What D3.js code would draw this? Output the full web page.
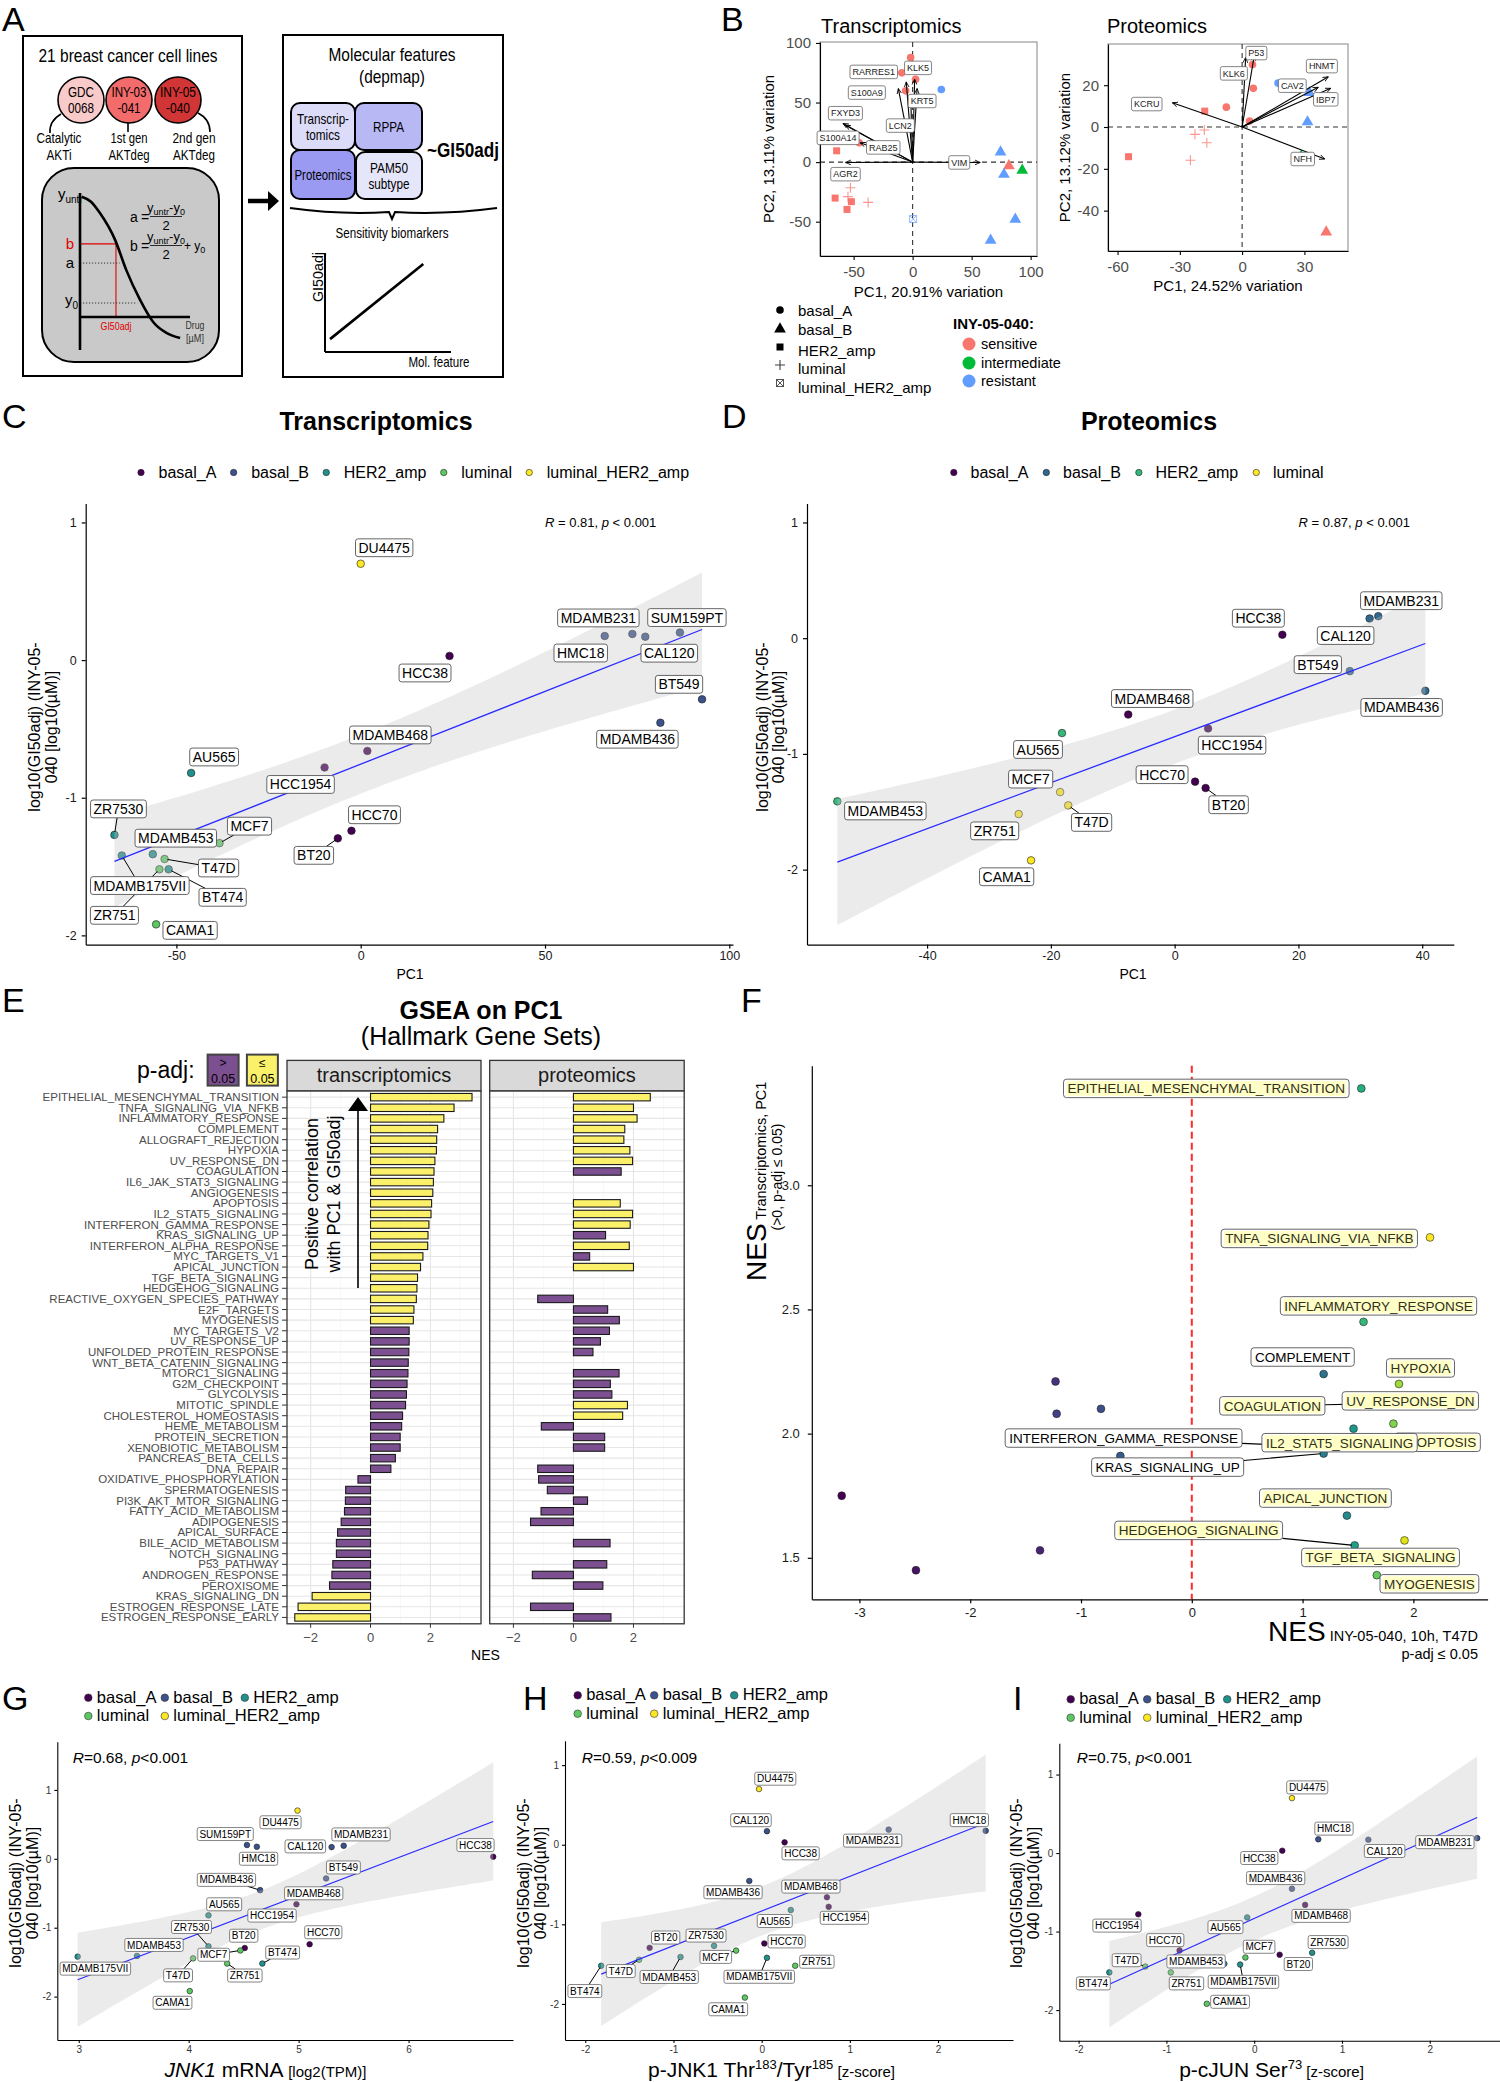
<!DOCTYPE html>
<html>
<head>
<meta charset="utf-8">
<script src="https://cdn.jsdelivr.net/npm/d3@7"></script>
<style>
  html, body { margin: 0; padding: 0; background: #fff; }
  svg { display: block; }
</style>
</head>
<body>
<script>
// ============================ DATA ============================
// --- Panel A (schematic) ---
const drugNames = [["GDC", "0068"], ["INY-03", "-041"], ["INY-05", "-040"]];
const drugClasses = [["Catalytic", "AKTi"], ["1st gen", "AKTdeg"], ["2nd  gen", "AKTdeg"]];
const featureBlocks = [["Transcrip-", "tomics"], ["RPPA"], ["Proteomics"], ["PAM50", "subtype"]];
const doseResponseSketch = [[0.015, 0.97], [0.1, 0.93], [0.18, 0.84], [0.32, 0.62], [0.42, 0.38], [0.545, 0.14], [0.665, -0.04], [0.79, -0.13], [0.91, -0.17]];
const sketchLevels = { b: 0.59, a: 0.435, y0: 0.113, gi50: 0.327, aX: 0.36, y0X: 0.52 };
const biomarkerSketch = [[0.04, 0.13], [0.78, 0.89]];

// --- Panel B (PCA) ---
const pcaTxSubtype = ["basal_A","basal_A","basal_A","basal_A","basal_A","basal_A","HER2_amp","basal_B","basal_B","basal_B","basal_B","HER2_amp","HER2_amp","HER2_amp","luminal","luminal","luminal","luminal_HER2_amp","basal_B","basal_B"];
const pcaTxResponse = ["sensitive","sensitive","sensitive","sensitive","resistant","sensitive","sensitive","resistant","sensitive","intermediate","resistant","sensitive","sensitive","sensitive","sensitive","sensitive","sensitive","resistant","resistant","resistant"];
const pcaTxPC1 = [-1.7, -9.2, 2.5, -5.9, 24.3, -45.2, -64.4, 74.5, 81.6, 92.9, 77.4, -65.7, -51.9, -55.6, -52.7, -54.8, -37.7, 0.4, 87, 66.1];
const pcaTxPC2 = [87.7, 74.9, 69.6, 59.8, 60.9, 16.2, 9.5, 9.2, -2.2, -6.1, -9.5, -30.2, -33.2, -39.7, -21.5, -29, -33.8, -47.8, -47.2, -64.8];
const loadTxGenes = ["KLK5","RARRES1","S100A9","KRT5","LCN2","FXYD3","S100A14","RAB25","AGR2","VIM"];
const loadTxPC1 = [1.7, -5.4, -12.1, 3.8, -1.7, -59, -56.9, -44.4, -56.9, 57.3];
const loadTxPC2 = [69.6, 67.3, 61.7, 61.7, 57, 32.4, 31, 16.2, -0.3, -0.3];

const pcaProtSubtype = ["basal_A","basal_A","basal_A","basal_A","HER2_amp","basal_A","basal_B","basal_B","basal_B","basal_B","HER2_amp","luminal","luminal","luminal","luminal"];
const pcaProtResponse = ["sensitive","sensitive","sensitive","sensitive","sensitive","resistant","resistant","resistant","intermediate","sensitive","sensitive","sensitive","sensitive","sensitive","sensitive"];
const pcaProtPC1 = [5, 5.4, -7.6, 3.6, -18, 17.3, 32.4, 31.5, 28.4, 40.5, -54.7, -22.7, -18.2, -17, -24.9];
const pcaProtPC2 = [29.9, 18.5, 9.5, 2.9, 7.6, 21, 16.9, 2.9, -13.7, -49.8, -14.2, -3.5, -1.4, -7.5, -15.9];
const loadProtGenes = ["P53","KLK6","HNMT","CAV2","IBP7","KCRU","NFH"];
const loadProtPC1 = [5.9, 1.7, 41.5, 36.7, 42.7, -33.6, 39.8];
const loadProtPC2 = [34.4, 33.3, 24, 19, 18.5, 11.6, -15.3];
const shapeLevels = ["basal_A","basal_B","HER2_amp","luminal","luminal_HER2_amp"];
const responseLevels = ["sensitive","intermediate","resistant"];

// --- Cell lines (panels C, D, G, H, I) ---
const cellLines = ["DU4475","HCC38","MDAMB231","HMC18","CAL120","SUM159PT","BT549","MDAMB436","MDAMB468","HCC1954","AU565","HCC70","BT20","ZR7530","MCF7","MDAMB453","T47D","MDAMB175VII","BT474","ZR751","CAMA1"];
const subtypes = ["luminal_HER2_amp","basal_A","basal_B","basal_B","basal_B","basal_B","basal_B","basal_B","basal_A","basal_A","HER2_amp","basal_A","basal_A","HER2_amp","luminal","HER2_amp","luminal","HER2_amp","HER2_amp","luminal","luminal"];
const log10GI50 = [0.70, 0.03, 0.19, 0.175, 0.17, 0.20, -0.285, -0.455, -0.66, -0.78, -0.82, -1.24, -1.295, -1.27, -1.33, -1.41, -1.445, -1.42, -1.52, -1.52, -1.92];
const pc1Transcriptomics = [0, 24.1, 73.7, 66.2, 77.2, 86.6, 92.6, 81.3, 1.8, -9.8, -46, -2.5, -6.2, -66.8, -38.3, -56.4, -53.2, -64.8, -52.1, -54.6, -55.5];
const pc1Proteomics = [null, 17.4, 32.9, null, 31.5, null, 28.3, 40.5, -7.5, 5.4, -18.2, 3.3, 5.0, null, -18.5, -54.5, -17.2, null, null, -25.2, -23.2];
const jnk1mRNA = [4.99, 6.77, 5.41, 4.62, 5.30, 4.53, 5.25, 4.65, 4.98, 4.74, 4.18, 5.10, 4.51, 4.18, 4.47, 3.53, 4.04, 2.99, 4.67, 4.35, 4.01];
const pJNK1 = [-0.03, 0.26, 1.44, 2.54, 0.06, null, null, -0.14, 0.74, 0.76, 0.33, 0.03, -1.27, -0.54, -0.29, -0.92, -1.39, 0.06, -1.82, 0.38, -0.19];
const pcJUN = [0.43, 0.32, 2.54, 0.73, 1.30, null, null, 0.43, 0.58, -1.32, -0.08, -0.85, 0.29, 0.66, -0.10, -0.34, -1.24, -0.16, -1.65, -0.95, -0.54];
const subtypeLevels5 = ["basal_A","basal_B","HER2_amp","luminal","luminal_HER2_amp"];
const subtypeLevels4 = ["basal_A","basal_B","HER2_amp","luminal"];
const statsText = { C: "0.81", D: "0.87", G: "0.68", H: "0.59", I: "0.75" };
const pText = { C: "0.001", D: "0.001", G: "0.001", H: "0.009", I: "0.001" };

// --- Panel E (GSEA on PC1) ---
const hallmarkSets = ["EPITHELIAL_MESENCHYMAL_TRANSITION","TNFA_SIGNALING_VIA_NFKB","INFLAMMATORY_RESPONSE","COMPLEMENT","ALLOGRAFT_REJECTION","HYPOXIA","UV_RESPONSE_DN","COAGULATION","IL6_JAK_STAT3_SIGNALING","ANGIOGENESIS","APOPTOSIS","IL2_STAT5_SIGNALING","INTERFERON_GAMMA_RESPONSE","KRAS_SIGNALING_UP","INTERFERON_ALPHA_RESPONSE","MYC_TARGETS_V1","APICAL_JUNCTION","TGF_BETA_SIGNALING","HEDGEHOG_SIGNALING","REACTIVE_OXYGEN_SPECIES_PATHWAY","E2F_TARGETS","MYOGENESIS","MYC_TARGETS_V2","UV_RESPONSE_UP","UNFOLDED_PROTEIN_RESPONSE","WNT_BETA_CATENIN_SIGNALING","MTORC1_SIGNALING","G2M_CHECKPOINT","GLYCOLYSIS","MITOTIC_SPINDLE","CHOLESTEROL_HOMEOSTASIS","HEME_METABOLISM","PROTEIN_SECRETION","XENOBIOTIC_METABOLISM","PANCREAS_BETA_CELLS","DNA_REPAIR","OXIDATIVE_PHOSPHORYLATION","SPERMATOGENESIS","PI3K_AKT_MTOR_SIGNALING","FATTY_ACID_METABOLISM","ADIPOGENESIS","APICAL_SURFACE","BILE_ACID_METABOLISM","NOTCH_SIGNALING","P53_PATHWAY","ANDROGEN_RESPONSE","PEROXISOME","KRAS_SIGNALING_DN","ESTROGEN_RESPONSE_LATE","ESTROGEN_RESPONSE_EARLY"];
const nesTranscriptomics = [3.39,2.79,2.45,2.24,2.21,2.20,2.15,2.12,2.10,2.08,2.04,2.02,1.95,1.92,1.91,1.75,1.67,1.57,1.55,1.53,1.45,1.43,1.29,1.29,1.28,1.26,1.25,1.22,1.20,1.17,1.07,1.04,0.99,0.99,0.83,0.68,-0.42,-0.83,-0.84,-0.87,-0.98,-1.10,-1.14,-1.14,-1.26,-1.29,-1.37,-1.95,-2.42,-2.53];
const sigTranscriptomics = [1,1,1,1,1,1,1,1,1,1,1,1,1,1,1,1,1,1,1,1,1,1,0,0,0,0,0,0,0,0,0,0,0,0,0,0,0,0,0,0,0,0,0,0,0,0,0,1,1,1];
const nesProteomics = [2.56,2.0,2.12,1.71,1.68,1.88,1.97,1.59,null,null,1.56,1.97,1.89,1.07,1.86,0.54,2.0,null,null,-1.19,1.14,1.53,1.20,0.90,0.65,null,1.52,1.23,1.28,1.80,1.64,-1.07,1.04,1.04,null,-1.19,-1.16,-0.87,0.47,-1.08,-1.43,null,1.22,null,1.11,-1.37,0.98,null,-1.43,1.25];
const sigProteomics = [1,1,1,1,1,1,1,0,0,0,1,1,1,0,1,0,1,0,0,0,0,0,0,0,0,0,0,0,0,1,1,0,0,0,0,0,0,0,0,0,0,0,0,0,0,0,0,0,0,0];
const facetNames = ["transcriptomics", "proteomics"];

// --- Panel F ---
const fSets = ["EPITHELIAL_MESENCHYMAL_TRANSITION","TNFA_SIGNALING_VIA_NFKB","INFLAMMATORY_RESPONSE","COMPLEMENT","HYPOXIA","UV_RESPONSE_DN","COAGULATION","APOPTOSIS","IL2_STAT5_SIGNALING","INTERFERON_GAMMA_RESPONSE","KRAS_SIGNALING_UP","APICAL_JUNCTION","HEDGEHOG_SIGNALING","TGF_BETA_SIGNALING","MYOGENESIS","ALLOGRAFT_REJECTION","IL6_JAK_STAT3_SIGNALING","ANGIOGENESIS","INTERFERON_ALPHA_RESPONSE","MYC_TARGETS_V1","REACTIVE_OXYGEN_SPECIES_PATHWAY","E2F_TARGETS"];
const fNesT47D = [1.53, 2.15, 1.55, 1.19, 1.87, 1.90, 1.62, 1.82, 1.46, 1.00, 1.19, 1.40, 1.47, 1.92, 1.67, -1.23, -0.82, -1.22, -0.645, -3.16, -1.37, -2.49];
const fPlainLabel = ["COMPLEMENT", "INTERFERON_GAMMA_RESPONSE", "KRAS_SIGNALING_UP"];

// ============================ LAYOUT ============================
const labelOffsetC = {DU4475:[23.5,-16], HCC38:[-24.5,17], MDAMB231:[-34,-16], HMC18:[-24,17], CAL120:[24,16.5], SUM159PT:[7,-15], BT549:[-23,-15], MDAMB436:[-23,16.5], MDAMB468:[23,-16], HCC1954:[-24,17], AU565:[23,-16], HCC70:[23,-16], BT20:[-24,17,1], ZR7530:[4,-26,1], MCF7:[30,-17,1], MDAMB453:[23,-16], T47D:[54,9,1], MDAMB175VII:[18,30,1], BT474:[54,28,1], ZR751:[-45,46,1], CAMA1:[34,6]};
const labelOffsetD = {MDAMB231:[23,-15.5], CAL120:[-24,17], HCC38:[-24,-16.5], BT549:[-32,-6.5], MDAMB436:[-23.7,16.6], MDAMB468:[24,-16], HCC1954:[24,16.7], AU565:[-24,16.4], MCF7:[-29.5,-13], HCC70:[-33,-7], BT20:[23,16.7,1], T47D:[23.4,17,1], ZR751:[-24,16.8], MDAMB453:[48,9.6], CAMA1:[-24.4,16.4]};
const labelOffsetG = {DU4475:[-17,11.7], SUM159PT:[-21.7,-11], HMC18:[1.7,12], CAL120:[-26.3,-0.7], MDAMB231:[17.3,-11.3], HCC38:[-17.7,-11.7], BT549:[17.3,-11], MDAMB436:[-33.7,-10.3,1], MDAMB468:[17.3,-11], AU565:[15.7,-11], HCC1954:[2,3], ZR7530:[-17,-19.3,1], BT20:[-1,-12.3], HCC70:[13.7,-12], MDAMB453:[17,-11], MCF7:[-26.7,4.3,1], BT474:[20.3,-11,1], MDAMB175VII:[17.7,12], T47D:[-15,17,1], ZR751:[17.7,12,1], CAMA1:[-17.3,11.7]};
const labelOffsetH = {DU4475:[16.3,-10.3], CAL120:[-16,-11], HCC38:[16,11], MDAMB231:[-16,11], HMC18:[-16.3,-10.7], MDAMB436:[-16.3,11.3], MDAMB468:[-16,-10.7], HCC1954:[15.7,11], AU565:[-16,11], BT20:[16,-10.3], ZR7530:[-8,-10.3], HCC70:[22.3,-2], MCF7:[-20.3,6.3,1], MDAMB453:[-11.3,20,1], T47D:[-18.3,11.3,1], BT474:[-16.3,25.3,1], MDAMB175VII:[-7.7,19,1], ZR751:[21.7,-4], CAMA1:[-16.7,11.7]};
const labelOffsetI = {DU4475:[15.3,-10.7], HMC18:[15.7,-10.7], CAL120:[16.3,11.3], MDAMB231:[-32.3,4], HCC38:[-23,7.3], MDAMB436:[-16.3,-10.7], MDAMB468:[16,11], HCC1954:[-21.3,11.3], AU565:[-21.7,9.7], HCC70:[-14.3,-10.3], MCF7:[13.7,-10.7], BT20:[18.7,9.3], ZR7530:[16,-10.7], MDAMB453:[-28.3,-2.3], MDAMB175VII:[3.3,17.3,1], T47D:[-18.7,-6.3,1], ZR751:[15.7,11], BT474:[-16,11], CAMA1:[23.3,-2]};
const labelOffsetF = {EPITHELIAL_MESENCHYMAL_TRANSITION:[-155,0], TNFA_SIGNALING_VIA_NFKB:[-110.7,1], INFLAMMATORY_RESPONSE:[15,-16], COMPLEMENT:[-21,-17], HYPOXIA:[21.5,-16], UV_RESPONSE_DN:[8,4.5], COAGULATION:[-99,2,1], APOPTOSIS:[44,18.6], IL2_STAT5_SIGNALING:[-14,14], INTERFERON_GAMMA_RESPONSE:[-179,-8,1], KRAS_SIGNALING_UP:[-156,13.6,1], APICAL_JUNCTION:[-21.5,-17.5], HEDGEHOG_SIGNALING:[-156,-15,1], TGF_BETA_SIGNALING:[-24,17], MYOGENESIS:[52.6,8.6]};
const loadLabelOffsetTx = {KLK5:[3.4,-11.3], RARRES1:[-32.5,-10], S100A9:[-31.5,4], KRT5:[5,12.4], LCN2:[-10.3,31.4], FXYD3:[2.4,-10.3], S100A14:[-7.4,12.7], RAB25:[23,4.6], AGR2:[0,11.7], VIM:[-21,0]};
const loadLabelOffsetProt = {P53:[2,-2], KLK6:[-11.8,16], HNMT:[-6.4,-10.7], CAV2:[-26,-1.6], IBP7:[-5,11], KCRU:[-25.6,1.3], NFH:[-22,0]};
const T975 = {13: 2.160, 17: 2.110, 19: 2.093};

// ============================ HELPERS ============================
const FONT = "'Liberation Sans', Arial, Helvetica, sans-serif";
const svg = d3.select("body").append("svg").attr("width", 1500).attr("height", 2082).style("font-family", FONT);
svg.append("rect").attr("width", 1500).attr("height", 2082).attr("fill", "#fff");
const defs = svg.append("defs");
defs.append("marker").attr("id", "arrB").attr("viewBox", "0 0 10 10").attr("refX", 9).attr("refY", 5)
  .attr("markerWidth", 6).attr("markerHeight", 6).attr("markerUnits", "userSpaceOnUse").attr("orient", "auto")
  .append("path").attr("d", "M0,1 L9,5 L0,9").attr("fill", "none").attr("stroke", "#000").attr("stroke-width", 1.4);

function T(g, x, y, s, o = {}) {
  const t = g.append("text").attr("x", x).attr("y", y).attr("font-size", o.size || 12)
    .attr("text-anchor", o.anchor || "start").attr("fill", o.fill || "#000").text(s);
  if (o.weight) t.attr("font-weight", o.weight);
  if (o.italic) t.attr("font-style", "italic");
  if (o.rotate) t.attr("transform", `rotate(${o.rotate},${x},${y})`);
  if (o.len) t.attr("textLength", o.len).attr("lengthAdjust", "spacingAndGlyphs");
  return t;
}
function line(g, x1, y1, x2, y2, stroke = "#000", w = 1, dash = null) {
  const l = g.append("line").attr("x1", x1).attr("y1", y1).attr("x2", x2).attr("y2", y2).attr("stroke", stroke).attr("stroke-width", w);
  if (dash) l.attr("stroke-dasharray", dash);
  return l;
}
function styleAxis(a, o) {
  a.attr("font-family", FONT).attr("font-size", o.fs);
  a.select(".domain").attr("stroke", "#000").attr("stroke-width", o.w);
  a.selectAll(".tick line").attr("stroke", "#000").attr("stroke-width", o.w);
  a.selectAll(".tick text").attr("fill", o.fill);
}
function axes(g, x, y, o) {
  const fmtX = o.fmtX || (d => String(d)), fmtY = o.fmtY || (d => String(d));
  const ab = g.append("g").attr("transform", `translate(0,${y.range()[0]})`)
    .call(d3.axisBottom(x).tickValues(o.xTicks).tickSizeInner(o.tl).tickSizeOuter(0).tickPadding(o.padX).tickFormat(fmtX));
  const al = g.append("g").attr("transform", `translate(${x.range()[0]},0)`)
    .call(d3.axisLeft(y).tickValues(o.yTicks).tickSizeInner(o.tl).tickSizeOuter(0).tickPadding(o.padY).tickFormat(fmtY));
  styleAxis(ab, o); styleAxis(al, o);
}
function linFit(X, Y) {
  const n = X.length, mx = d3.mean(X), my = d3.mean(Y);
  let sxx = 0, sxy = 0;
  for (let i = 0; i < n; i++) { sxx += (X[i] - mx) ** 2; sxy += (X[i] - mx) * (Y[i] - my); }
  const b = sxy / sxx, a = my - b * mx;
  let sse = 0;
  for (let i = 0; i < n; i++) sse += (Y[i] - a - b * X[i]) ** 2;
  const s = Math.sqrt(sse / (n - 2)), t = T975[n - 2];
  const f = v => a + b * v;
  const se = v => s * Math.sqrt(1 / n + (v - mx) ** 2 / sxx);
  return { f, lo: v => f(v) - t * se(v), hi: v => f(v) + t * se(v) };
}
// ggrepel-like label boxes
function drawLabels(g, items, o) {
  const segLayer = g.append("g"), labLayer = g.append("g");
  items.forEach(it => {
    const cx = it.px + it.dx, cy = it.py + it.dy;
    const lg = labLayer.append("g");
    const t = lg.append("text").attr("x", cx).attr("y", cy).attr("dy", "0.36em").attr("text-anchor", "middle")
      .attr("font-size", o.fs).attr("fill", it.textFill || "#000").text(it.text);
    const tw = t.node().getComputedTextLength();
    const w = tw + 2 * o.padX, h = o.fs * 1.1 + 2 * o.padY;
    lg.insert("rect", "text").attr("x", cx - w / 2).attr("y", cy - h / 2).attr("width", w).attr("height", h)
      .attr("rx", o.rx).attr("fill", "#fff").attr("stroke", o.stroke || "#555").attr("stroke-width", o.sw || 0.8);
    if (it.highlight) lg.insert("rect", "text").attr("x", cx - tw / 2 - 1).attr("y", cy - o.fs * 0.55)
      .attr("width", tw + 2).attr("height", o.fs * 1.1).attr("fill", it.highlight);
    if (it.seg) {
      const dx = it.px - cx, dy = it.py - cy;
      const s = Math.min((w / 2) / Math.max(Math.abs(dx), 1e-6), (h / 2) / Math.max(Math.abs(dy), 1e-6));
      if (s < 1) {
        const ex = cx + dx * s, ey = cy + dy * s;
        const dist = Math.hypot(it.px - ex, it.py - ey);
        const k = Math.max(0, (dist - (o.ptPad || 2)) / dist);
        line(segLayer, ex, ey, ex + (it.px - ex) * k, ey + (it.py - ey) * k, "#000", o.segW || 1);
      }
    }
  });
}
function rText(g, x, y, parts, size) {
  const t = g.append("text").attr("x", x).attr("y", y).attr("font-size", size);
  parts.forEach(([s, it]) => t.append("tspan").attr("font-style", it ? "italic" : "normal").text(s));
  return t;
}
// generic cell-line scatter with lm + 95% CI ribbon (ggplot style: ribbon drawn over points)
function cellScatter(cfg) {
  const g = svg.append("g");
  const { x, y } = cfg;
  axes(g, x, y, cfg.axis);
  const idx = d3.range(cellLines.length).filter(i => cfg.xs[i] != null);
  idx.forEach(i => g.append("circle").attr("cx", x(cfg.xs[i])).attr("cy", y(log10GI50[i])).attr("r", cfg.r)
    .attr("fill", cfg.color(subtypes[i])).attr("stroke", "#1a1a1a").attr("stroke-width", 0.6));
  const X = idx.map(i => cfg.xs[i]), Y = idx.map(i => log10GI50[i]);
  const fit = linFit(X, Y);
  const [xmin, xmax] = d3.extent(X);
  const grid = d3.range(81).map(k => xmin + (xmax - xmin) * k / 80);
  g.append("path").datum(grid).attr("d", d3.area().x(d => x(d)).y0(d => y(fit.lo(d))).y1(d => y(fit.hi(d))))
    .attr("fill", "#c7c7c7").attr("fill-opacity", 0.35);
  line(g, x(xmin), y(fit.f(xmin)), x(xmax), y(fit.f(xmax)), "#2a2aff", cfg.lw || 1.3);
  const items = idx.map(i => {
    const off = cfg.offsets[cellLines[i]] || [0, -12];
    return { px: x(cfg.xs[i]), py: y(log10GI50[i]), dx: off[0], dy: off[1], seg: !!off[2], text: cellLines[i] };
  });
  drawLabels(g, items, cfg.label);
  return g;
}
function twoRowLegend(g, x0, y1, y2, color, fs) {
  const cols = [0, 76.5, 156.5];
  const pos = [[cols[0], y1], [cols[1], y1], [cols[2], y1], [cols[0], y2], [cols[1], y2]];
  subtypeLevels5.forEach((l, k) => {
    const [dx, yy] = pos[k];
    g.append("circle").attr("cx", x0 + dx).attr("cy", yy + 1).attr("r", 3.8).attr("fill", color(l)).attr("stroke", "#333").attr("stroke-width", 0.6);
    T(g, x0 + dx + 8.5, yy + fs * 0.36, l, { size: fs });
  });
}
function rowLegend(g, x0, yc, levels, color, fs, gapDot, gapItem) {
  let x = x0;
  levels.forEach(l => {
    g.append("circle").attr("cx", x).attr("cy", yc).attr("r", 3.2).attr("fill", color(l)).attr("stroke", "#222").attr("stroke-width", 0.6);
    const t = T(g, x + gapDot, yc + fs * 0.36, l, { size: fs });
    x += gapDot + t.node().getComputedTextLength() + gapItem;
  });
}

// ============================ PANEL LETTERS ============================
[["A", 2, 31], ["B", 721, 31], ["C", 2, 428], ["D", 722, 428], ["E", 2, 1012], ["F", 741, 1012], ["G", 2, 1710], ["H", 523, 1710], ["I", 1013, 1710]]
  .forEach(([l, x, y]) => T(svg, x, y, l, { size: 34 }));

// ============================ PANEL A ============================
(function () {
  const g = svg.append("g");
  g.append("rect").attr("x", 23).attr("y", 36).attr("width", 219).attr("height", 340).attr("fill", "none").attr("stroke", "#000").attr("stroke-width", 2);
  T(g, 128, 62, "21 breast cancer cell lines", { size: 19, anchor: "middle", len: 179 });
  const cxs = [81, 129, 178], fills = ["#f9caca", "#f36b6b", "#d23535"];
  const w1 = [26, 35, 36], w2 = [26, 23, 24], c1 = [45, 37, 43], c2 = [25, 41, 42], ccx = [59, 129, 194];
  g.append("path").attr("d", "M61,114 Q49,121 50,133").attr("fill", "none").attr("stroke", "#000").attr("stroke-width", 1.6);
  line(g, 128, 122, 128, 132, "#000", 1.6);
  g.append("path").attr("d", "M198,113 Q210,119 210,132").attr("fill", "none").attr("stroke", "#000").attr("stroke-width", 1.6);
  drugNames.forEach((d, i) => {
    g.append("circle").attr("cx", cxs[i]).attr("cy", 100).attr("r", 23).attr("fill", fills[i]).attr("stroke", "#000").attr("stroke-width", 1.6);
    T(g, cxs[i], 97, d[0], { size: 15, anchor: "middle", len: w1[i] });
    T(g, cxs[i], 113, d[1], { size: 15, anchor: "middle", len: w2[i] });
    T(g, ccx[i], 143, drugClasses[i][0], { size: 15, anchor: "middle", len: c1[i] });
    T(g, ccx[i], 160, drugClasses[i][1], { size: 15, anchor: "middle", len: c2[i] });
  });
  g.append("rect").attr("x", 42).attr("y", 168).attr("width", 177).attr("height", 194).attr("rx", 32).attr("fill", "#c9c9c9").attr("stroke", "#000").attr("stroke-width", 2);
  const sx = d3.scaleLinear([0, 1], [80, 190]), sy = d3.scaleLinear([0, 1], [317, 193]);
  line(g, sx(sketchLevels.gi50), sy(sketchLevels.b), sx(sketchLevels.gi50), sy(0), "#e00000", 1.1);
  line(g, sx(0), sy(sketchLevels.b), sx(sketchLevels.gi50), sy(sketchLevels.b), "#e00000", 1.1);
  line(g, sx(0), sy(sketchLevels.a), sx(sketchLevels.aX), sy(sketchLevels.a), "#333", 1, "1.2,1.8");
  line(g, sx(0), sy(sketchLevels.y0), sx(sketchLevels.y0X), sy(sketchLevels.y0), "#333", 1, "1.2,1.8");
  line(g, 80, 193, 80, 350, "#000", 2.6);
  line(g, 80, 317, 190, 317, "#000", 2.6);
  g.append("path").datum(doseResponseSketch).attr("d", d3.line().x(d => sx(d[0])).y(d => sy(d[1])).curve(d3.curveMonotoneX))
    .attr("fill", "none").attr("stroke", "#000").attr("stroke-width", 2.6);
  let t = g.append("text").attr("x", 58).attr("y", 199).attr("font-size", 15);
  t.append("tspan").text("y"); t.append("tspan").attr("font-size", 10).attr("dy", 4).text("untr");
  T(g, 70, 249, "b", { size: 15, anchor: "middle", fill: "#e00000" });
  T(g, 70, 268, "a", { size: 15, anchor: "middle" });
  t = g.append("text").attr("x", 65).attr("y", 305).attr("font-size", 15);
  t.append("tspan").text("y"); t.append("tspan").attr("font-size", 10).attr("dy", 4).text("0");
  function frac(yNum, yBar, yDen) {
    const n = g.append("text").attr("x", 166).attr("y", yNum).attr("font-size", 13).attr("text-anchor", "middle");
    n.append("tspan").text("y"); n.append("tspan").attr("font-size", 9).attr("dy", 3).text("untr");
    n.append("tspan").attr("dy", -3).text("-y"); n.append("tspan").attr("font-size", 9).attr("dy", 3).text("0");
    line(g, 150, yBar, 182, yBar, "#000", 0.8);
    T(g, 166, yDen, "2", { size: 13, anchor: "middle" });
  }
  T(g, 130, 222, "a", { size: 14 }); T(g, 141, 222, "=", { size: 14 });
  frac(212, 216.5, 230);
  T(g, 130, 251, "b", { size: 14 }); T(g, 141, 251, "=", { size: 14 });
  frac(241, 245.5, 259);
  t = g.append("text").attr("x", 184).attr("y", 250).attr("font-size", 12);
  t.append("tspan").text("+ y"); t.append("tspan").attr("font-size", 9).attr("dy", 3).text("0");
  T(g, 116, 330, "GI50adj", { size: 11, anchor: "middle", fill: "#e00000", len: 31 });
  T(g, 195, 329, "Drug", { size: 11, anchor: "middle", fill: "#333", len: 19 });
  T(g, 195, 342, "[µM]", { size: 11, anchor: "middle", fill: "#333", len: 18 });
  line(g, 248, 201, 270, 201, "#000", 4.5);
  g.append("path").attr("d", "M268,191 L279,201 L268,211 Z").attr("fill", "#000");
  g.append("rect").attr("x", 283).attr("y", 35).attr("width", 220).attr("height", 342).attr("fill", "none").attr("stroke", "#000").attr("stroke-width", 2);
  T(g, 392, 61, "Molecular features", { size: 19, anchor: "middle", len: 127 });
  T(g, 392, 83, "(depmap)", { size: 19, anchor: "middle", len: 66 });
  const blocks = [[291, 103, 64, 47, "#dcdcf8"], [355, 103, 67, 47, "#b8b8f5"], [291, 150, 64, 49, "#9a9af2"], [356, 152, 66, 47, "#e6e6fb"]];
  const bw = [[52, 34], [31], [57], [38, 41]];
  blocks.forEach((b, i) => {
    g.append("rect").attr("x", b[0]).attr("y", b[1]).attr("width", b[2]).attr("height", b[3]).attr("rx", 9).attr("fill", b[4]).attr("stroke", "#000").attr("stroke-width", 2);
    const lines = featureBlocks[i], cx = b[0] + b[2] / 2, cy = b[1] + b[3] / 2;
    lines.forEach((s, k) => T(g, cx, cy + 5 + (k - (lines.length - 1) / 2) * 16, s, { size: 15, anchor: "middle", len: bw[i][k] }));
  });
  T(g, 427, 157, "~GI50adj", { size: 20, weight: "bold", len: 72 });
  g.append("path").attr("d", "M290,208 Q340,215 389,212 L392,219 L395,212 Q445,215 497,208").attr("fill", "none").attr("stroke", "#000").attr("stroke-width", 2);
  T(g, 392, 238, "Sensitivity biomarkers", { size: 15, anchor: "middle", len: 113 });
  const mx = d3.scaleLinear([0, 1], [325, 451]), my = d3.scaleLinear([0, 1], [352, 253]);
  line(g, mx(0), my(0), mx(0), my(1), "#000", 2);
  line(g, mx(0), my(0), mx(1), my(0), "#000", 2);
  g.append("path").datum(biomarkerSketch).attr("d", d3.line().x(d => mx(d[0])).y(d => my(d[1]))).attr("stroke", "#000").attr("stroke-width", 2.6);
  T(g, 323, 277, "GI50adj", { size: 14, anchor: "middle", rotate: -90, len: 50 });
  T(g, 439, 367, "Mol. feature", { size: 15, anchor: "middle", len: 61 });
})();

// ============================ PANEL B ============================
(function () {
  const g = svg.append("g");
  const respColor = d3.scaleOrdinal(responseLevels, ["#F8766D", "#00BA38", "#619CFF"]);
  function drawShape(gg, sub, cx, cy, col) {
    if (sub === "basal_A") gg.append("circle").attr("cx", cx).attr("cy", cy).attr("r", 3.8).attr("fill", col);
    else if (sub === "basal_B") gg.append("path").attr("d", d3.symbol(d3.symbolTriangle, 60)()).attr("transform", `translate(${cx},${cy + 1})`).attr("fill", col);
    else if (sub === "HER2_amp") gg.append("rect").attr("x", cx - 3.5).attr("y", cy - 3.5).attr("width", 7).attr("height", 7).attr("fill", col);
    else if (sub === "luminal") gg.append("path").attr("d", `M${cx - 5},${cy}H${cx + 5}M${cx},${cy - 5}V${cy + 5}`).attr("stroke", col).attr("stroke-width", 1.1).attr("opacity", 0.75);
    else gg.append("path").attr("d", `M${cx - 3.5},${cy - 3.5}h7v7h-7zM${cx - 3.5},${cy - 3.5}L${cx + 3.5},${cy + 3.5}M${cx + 3.5},${cy - 3.5}L${cx - 3.5},${cy + 3.5}`).attr("fill", "none").attr("stroke", col).attr("stroke-width", 0.9).attr("opacity", 0.75);
  }
  function pca(cfg) {
    const { x, y } = cfg;
    const [x0, x1] = x.range(), [y0, y1] = y.range();
    g.append("rect").attr("x", x0).attr("y", y1).attr("width", x1 - x0).attr("height", y0 - y1).attr("fill", "#fff").attr("stroke", "#9a9a9a").attr("stroke-width", 1.2);
    line(g, x(0), y1, x(0), y0, "#333", 1.1, "5,4");
    line(g, x0, y(0), x1, y(0), "#333", 1.1, "5,4");
    axes(g, x, y, { xTicks: cfg.xTicks, yTicks: cfg.yTicks, tl: 4, padX: 6, padY: 5, fs: 15, w: 1.1, fill: "#4d4d4d" });
    cfg.pc1.forEach((v, i) => drawShape(g, cfg.sub[i], x(v), y(cfg.pc2[i]), respColor(cfg.resp[i])));
    cfg.genes.forEach((gn, i) => g.append("line").attr("x1", x(0)).attr("y1", y(0)).attr("x2", x(cfg.lx[i])).attr("y2", y(cfg.ly[i]))
      .attr("stroke", "#000").attr("stroke-width", 1.1).attr("marker-end", "url(#arrB)"));
    drawLabels(g, cfg.genes.map((gn, i) => ({ px: x(cfg.lx[i]), py: y(cfg.ly[i]), dx: cfg.off[gn][0], dy: cfg.off[gn][1], text: gn, textFill: "#222" })),
      { fs: 9, padX: 2.5, padY: 1.8, rx: 2, stroke: "#666", sw: 0.8 });
    T(g, cfg.titleX, 33, cfg.title, { size: 20 });
    T(g, (x0 + x1) / 2, cfg.xtY, cfg.xt, { size: 15, anchor: "middle" });
    T(g, cfg.ytX, (y0 + y1) / 2, cfg.yt, { size: 15, anchor: "middle", rotate: -90 });
  }
  pca({ x: d3.scaleLinear([-78.5, 105.4], [820, 1037]), y: d3.scaleLinear([-78.8, 100.8], [256, 42]),
    xTicks: [-50, 0, 50, 100], yTicks: [-50, 0, 50, 100], pc1: pcaTxPC1, pc2: pcaTxPC2, sub: pcaTxSubtype, resp: pcaTxResponse,
    genes: loadTxGenes, lx: loadTxPC1, ly: loadTxPC2, off: loadLabelOffsetTx,
    title: "Transcriptomics", titleX: 821, xt: "PC1, 20.91% variation", xtY: 297, yt: "PC2, 13.11% variation", ytX: 774 });
  pca({ x: d3.scaleLinear([-64.6, 51], [1108, 1348]), y: d3.scaleLinear([-59.3, 39.7], [251, 44]),
    xTicks: [-60, -30, 0, 30], yTicks: [-40, -20, 0, 20], pc1: pcaProtPC1, pc2: pcaProtPC2, sub: pcaProtSubtype, resp: pcaProtResponse,
    genes: loadProtGenes, lx: loadProtPC1, ly: loadProtPC2, off: loadLabelOffsetProt,
    title: "Proteomics", titleX: 1107, xt: "PC1, 24.52% variation", xtY: 291, yt: "PC2, 13.12% variation", ytX: 1070 });
  const symY = [310, 328, 347, 365, 383], txtY = [316, 335, 356, 374, 393];
  shapeLevels.forEach((s, k) => { drawShape(g, s, 780, symY[k], "#000"); T(g, 798, txtY[k], s, { size: 15 }); });
  T(g, 953, 329, "INY-05-040:", { size: 15, weight: "bold" });
  responseLevels.forEach((r, k) => {
    g.append("circle").attr("cx", 969).attr("cy", [344, 363, 381][k]).attr("r", 6.5).attr("fill", respColor(r));
    T(g, 981, [349, 368, 386][k], r, { size: 14.5 });
  });
})();

// ============================ PANEL C ============================
(function () {
  const color = d3.scaleOrdinal(subtypeLevels5, ["#440154", "#3B528B", "#21908C", "#5DC863", "#FDE725"]);
  const g = cellScatter({ x: d3.scaleLinear([-74.6, 101], [85.7, 733]), y: d3.scaleLinear([-2.067, 1.137], [944.6, 503.6]),
    xs: pc1Transcriptomics, color, r: 3.8, offsets: labelOffsetC,
    axis: { xTicks: [-50, 0, 50, 100], yTicks: [-2, -1, 0, 1], tl: 4, padX: 3, padY: 5, fs: 12.5, w: 1.2, fill: "#1a1a1a" },
    label: { fs: 14, padX: 3, padY: 1.2, rx: 2.5, stroke: "#555", sw: 0.9, ptPad: 3 } });
  T(g, 376, 430, "Transcriptomics", { size: 25, weight: "bold", anchor: "middle" });
  rowLegend(g, 141, 472.5, subtypeLevels5, color, 16, 17.5, 17.3);
  rText(g, 545, 527, [["R", 1], [" = " + statsText.C + ", ", 0], ["p", 1], [" < " + pText.C, 0]], 13);
  T(g, 410, 979, "PC1", { size: 14, anchor: "middle" });
  T(g, 40, 727, "log10(GI50adj) (INY-05-", { size: 16, anchor: "middle", rotate: -90 });
  T(g, 57, 727, "040 [log10(µM)]", { size: 16, anchor: "middle", rotate: -90 });
})();

// ============================ PANEL D ============================
(function () {
  const color = d3.scaleOrdinal(subtypeLevels4, ["#440154", "#31688E", "#35B779", "#FDE725"]);
  const g = cellScatter({ x: d3.scaleLinear([-59.4, 45.1], [807, 1453.8]), y: d3.scaleLinear([-2.648, 1.163], [944.6, 503.6]),
    xs: pc1Proteomics, color, r: 3.8, offsets: labelOffsetD,
    axis: { xTicks: [-40, -20, 0, 20, 40], yTicks: [-2, -1, 0, 1], tl: 4, padX: 3, padY: 5, fs: 12.5, w: 1.2, fill: "#1a1a1a" },
    label: { fs: 14, padX: 3, padY: 1.2, rx: 2.5, stroke: "#555", sw: 0.9, ptPad: 3 } });
  T(g, 1149, 430, "Proteomics", { size: 25, weight: "bold", anchor: "middle" });
  rowLegend(g, 953.8, 472.5, subtypeLevels4, color, 16, 16.7, 18);
  rText(g, 1298.6, 527, [["R", 1], [" = " + statsText.D + ", ", 0], ["p", 1], [" < " + pText.D, 0]], 13);
  T(g, 1133, 979, "PC1", { size: 14, anchor: "middle" });
  T(g, 768, 727, "log10(GI50adj) (INY-05-", { size: 16, anchor: "middle", rotate: -90 });
  T(g, 784, 727, "040 [log10(µM)]", { size: 16, anchor: "middle", rotate: -90 });
})();

// ============================ PANEL E ============================
(function () {
  const g = svg.append("g");
  const PURPLE = "#7B4F90", YELLOW = "#FBF06A";
  const yP = d3.scalePoint(hallmarkSets, [1090.8, 1623.8]).padding(0.6);
  const bh = yP.step() * 0.7, top = 1090.8, bot = 1623.8;
  const xs = [d3.scaleLinear([-2.79, 3.69], [287, 481]), d3.scaleLinear([-2.79, 3.69], [489.7, 684.2])];
  const nes = [nesTranscriptomics, nesProteomics], sig = [sigTranscriptomics, sigProteomics];
  facetNames.forEach((fname, f) => {
    const x = xs[f], [a, b] = x.range();
    g.append("rect").attr("x", a).attr("y", top).attr("width", b - a).attr("height", bot - top).attr("fill", "#fff");
    [-3, -1, 1, 3].forEach(v => line(g, x(v), top, x(v), bot, "#f3f3f3", 0.6));
    [-2, 0, 2].forEach(v => line(g, x(v), top, x(v), bot, "#e6e6e6", 1.1));
    hallmarkSets.forEach(h => line(g, a, yP(h), b, yP(h), "#e6e6e6", 1.1));
    hallmarkSets.forEach((h, i) => {
      const v = nes[f][i];
      if (v == null) return;
      g.append("rect").attr("x", x(Math.min(0, v))).attr("y", yP(h) - bh / 2).attr("width", Math.abs(x(v) - x(0))).attr("height", bh)
        .attr("fill", sig[f][i] ? YELLOW : PURPLE).attr("stroke", "#1a1a1a").attr("stroke-width", 1.1);
    });
    g.append("rect").attr("x", a).attr("y", top).attr("width", b - a).attr("height", bot - top).attr("fill", "none").attr("stroke", "#333").attr("stroke-width", 1.3);
    g.append("rect").attr("x", a).attr("y", 1060.4).attr("width", b - a).attr("height", 30.4).attr("fill", "#d9d9d9").attr("stroke", "#333").attr("stroke-width", 1.3);
    T(g, (a + b) / 2, 1082, fname, { size: 20, anchor: "middle", fill: "#1a1a1a" });
    [-2, 0, 2].forEach(v => {
      line(g, x(v), bot, x(v), bot + 4, "#333", 1);
      T(g, x(v), 1642, v < 0 ? "\u2212" + (-v) : String(v), { size: 13, anchor: "middle", fill: "#4d4d4d" });
    });
  });
  hallmarkSets.forEach(h => {
    line(g, 282, yP(h), 287, yP(h), "#333", 1);
    T(g, 279, yP(h) + 4, h, { size: 11.5, anchor: "end", fill: "#4d4d4d" });
  });
  T(g, 485.5, 1660, "NES", { size: 14, anchor: "middle" });
  T(g, 481, 1019, "GSEA on PC1", { size: 25, weight: "bold", anchor: "middle" });
  T(g, 481, 1045, "(Hallmark Gene Sets)", { size: 25, anchor: "middle" });
  T(g, 137, 1078, "p-adj:", { size: 23 });
  [[207.6, PURPLE, ">"], [246.9, YELLOW, "\u2264"]].forEach(([lx, col, sym]) => {
    g.append("rect").attr("x", lx).attr("y", 1054.6).attr("width", 31).attr("height", 31).attr("fill", col).attr("stroke", "#444").attr("stroke-width", 2);
    T(g, lx + 15.5, 1067, sym, { size: 12, anchor: "middle" });
    T(g, lx + 15.5, 1082.5, "0.05", { size: 12.5, anchor: "middle" });
  });
  line(g, 358, 1110, 358, 1288, "#000", 1.6);
  g.append("path").attr("d", "M348,1111 L358,1097 L368,1111 Z").attr("fill", "#000");
  T(g, 318, 1194, "Positive correlation", { size: 18, anchor: "middle", rotate: -90 });
  T(g, 340, 1194, "with PC1 & GI50adj", { size: 18, anchor: "middle", rotate: -90 });
})();

// ============================ PANEL F ============================
(function () {
  const g = svg.append("g");
  const x = d3.scaleLinear([-3.43, 2.67], [811.8, 1487.6]);
  const y = d3.scaleLinear([1.333, 3.481], [1599.3, 1065.8]);
  axes(g, x, y, { xTicks: [-3, -2, -1, 0, 1, 2], yTicks: [1.5, 2.0, 2.5, 3.0], fmtY: d3.format(".1f"), tl: 4, padX: 4.5, padY: 8, fs: 13, w: 1.2, fill: "#1a1a1a" });
  line(g, x(0), y.range()[1], x(0), y.range()[0], "#ff2a2a", 2, "7,4");
  const n = fSets.length;
  const order = d3.range(n).sort((a, b) => fNesT47D[a] - fNesT47D[b]);
  const rank = new Array(n); order.forEach((id, r) => rank[id] = r);
  const yv = i => nesTranscriptomics[hallmarkSets.indexOf(fSets[i])];
  d3.range(n).forEach(i => g.append("circle").attr("cx", x(fNesT47D[i])).attr("cy", y(yv(i))).attr("r", 3.9)
    .attr("fill", d3.interpolateViridis(rank[i] / (n - 1))).attr("stroke", "#222").attr("stroke-width", 0.6));
  const items = d3.range(n).filter(i => fNesT47D[i] > 0).map(i => {
    const off = labelOffsetF[fSets[i]];
    const plain = fPlainLabel.includes(fSets[i]);
    return { px: x(fNesT47D[i]), py: y(yv(i)), dx: off[0], dy: off[1], seg: !!off[2], text: fSets[i],
      highlight: plain ? null : "#ffffc6", textFill: plain ? "#000" : "#30301a" };
  });
  drawLabels(g, items, { fs: 13.5, padX: 4, padY: 1.8, rx: 3, stroke: "#555", sw: 0.9, ptPad: 3, segW: 1.2 });
  let t = g.append("text").attr("x", 766).attr("y", 1281).attr("transform", "rotate(-90,766,1281)").attr("font-size", 28);
  t.append("tspan").text("NES");
  t.append("tspan").attr("font-size", 14.5).text(" Transcriptomics, PC1");
  T(g, 782, 1177, "(>0, p-adj \u2264 0.05)", { size: 14, anchor: "middle", rotate: -90 });
  t = g.append("text").attr("x", 1478).attr("y", 1641).attr("text-anchor", "end").attr("font-size", 28);
  t.append("tspan").text("NES");
  t.append("tspan").attr("font-size", 14.5).text(" INY-05-040, 10h, T47D");
  T(g, 1478, 1659, "p-adj \u2264 0.05", { size: 14.5, anchor: "end" });
})();

// ============================ PANELS G, H, I ============================
const color5 = d3.scaleOrdinal(subtypeLevels5, ["#440154", "#3B528B", "#21908C", "#5DC863", "#FDE725"]);
function bottomPanel(cfg) {
  const g = cellScatter({ x: cfg.x, y: cfg.y, xs: cfg.xs, color: color5, r: 2.8, offsets: cfg.offsets, lw: 1.1,
    axis: { xTicks: cfg.xTicks, yTicks: [-2, -1, 0, 1], tl: 3, padX: 2.5, padY: 3, fs: 10, w: 1.1, fill: "#333" },
    label: { fs: 10, padX: 2.2, padY: 1, rx: 2, stroke: "#666", sw: 0.8, ptPad: 2.5, segW: 1 } });
  twoRowLegend(g, cfg.legX, cfg.legY1, cfg.legY2, color5, 16.5);
  rText(g, cfg.rX, 1763, [["R", 1], ["=" + cfg.r + ", ", 0], ["p", 1], ["<" + cfg.p, 0]], 15.5);
  T(g, cfg.ytX, 1883, "log10(GI50adj) (INY-05-", { size: 16, anchor: "middle", rotate: -90 });
  T(g, cfg.ytX + 16.5, 1883, "040 [log10(µM)]", { size: 16, anchor: "middle", rotate: -90 });
  const t = g.append("text").attr("x", cfg.xtX).attr("y", 2077).attr("text-anchor", "middle").attr("font-size", 21);
  cfg.xt.forEach(([s, kind]) => {
    const sp = t.append("tspan").text(s);
    if (kind === "i") sp.attr("font-style", "italic");
    if (kind === "s") sp.attr("font-size", 15);
    if (kind === "sup") sp.attr("font-size", 13).attr("dy", -8);
    if (kind === "after") sp.attr("dy", 8);
    if (kind === "afters") sp.attr("dy", 8).attr("font-size", 15);
  });
}
bottomPanel({ x: d3.scaleLinear([2.805, 6.95], [57.3, 513]), y: d3.scaleLinear([-2.63, 1.70], [2040, 1741.7]), xs: jnk1mRNA,
  xTicks: [3, 4, 5, 6], offsets: labelOffsetG, legX: 88.3, legY1: 1696.7, legY2: 1715, rX: 72.7, r: statsText.G, p: pText.G,
  ytX: 21, xtX: 265.5, xt: [["JNK1", "i"], [" mRNA ", ""], ["[log2(TPM)]", "s"]] });
bottomPanel({ x: d3.scaleLinear([-2.23, 2.85], [565, 1013]), y: d3.scaleLinear([-2.453, 1.307], [2040, 1740.7]), xs: pJNK1,
  xTicks: [-2, -1, 0, 1, 2], offsets: labelOffsetH, legX: 577.7, legY1: 1694.3, legY2: 1712.7, rX: 581.7, r: statsText.H, p: pText.H,
  ytX: 529, xtX: 771.5, xt: [["p-JNK1  Thr", ""], ["183", "sup"], ["/Tyr", "after"], ["185", "sup"], [" [z-score]", "afters"]] });
bottomPanel({ x: d3.scaleLinear([-2.22, 2.80], [1059.3, 1500]), y: d3.scaleLinear([-2.39, 1.398], [2040.7, 1743.3]), xs: pcJUN,
  xTicks: [-2, -1, 0, 1, 2], offsets: labelOffsetI, legX: 1070.7, legY1: 1698.3, legY2: 1716.7, rX: 1076.7, r: statsText.I, p: pText.I,
  ytX: 1022, xtX: 1271.5, xt: [["p-cJUN Ser", ""], ["73", "sup"], [" [z-score]", "afters"]] });
</script>
</body>
</html>
